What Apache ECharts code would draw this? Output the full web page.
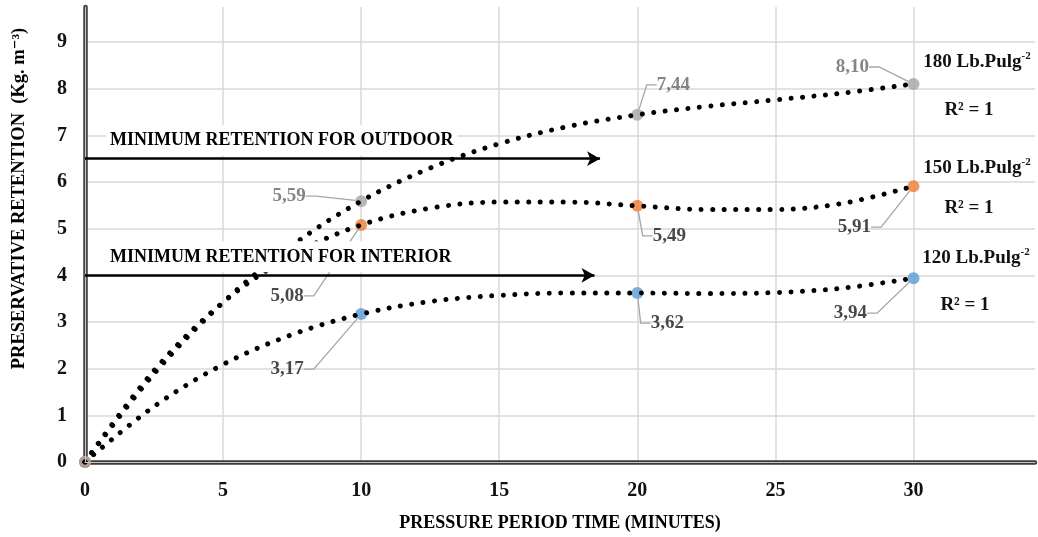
<!DOCTYPE html>
<html><head><meta charset="utf-8">
<script src="https://cdn.jsdelivr.net/npm/echarts@6/dist/echarts.min.js"></script>
<style>html,body{margin:0;padding:0;background:#fff}#c{width:1038px;height:537px}</style>
</head><body><div id="c"></div>
<script>
// ---- data ----
const times = [0, 10, 20, 30];
const ret120 = [0, 3.17, 3.62, 3.94];
const ret150 = [0, 5.08, 5.49, 5.91];
const ret180 = [0, 5.59, 7.44, 8.10];
// dotted trend curves
const trendX   = [0, 2.5, 5, 7.5, 10, 12.5, 15, 17.5, 20, 22.5, 25, 27.5, 30];
const trend120 = [0, 1.19, 2.09, 2.73, 3.17, 3.44, 3.57, 3.62, 3.62, 3.61, 3.63, 3.73, 3.94];
const trend150 = [0, 1.96, 3.42, 4.43, 5.08, 5.44, 5.57, 5.57, 5.49, 5.41, 5.41, 5.55, 5.91];
const trend180 = [0, 1.89, 3.42, 4.64, 5.59, 6.30, 6.82, 7.19, 7.44, 7.62, 7.76, 7.91, 8.10];
const seriesNames = ['120 Lb.Pulg', '150 Lb.Pulg', '180 Lb.Pulg'];
const seriesNameSup = '-2';
const rSquaredText = ['R² = 1', 'R² = 1', 'R² = 1'];
const thresholdNames = ['MINIMUM RETENTION FOR OUTDOOR', 'MINIMUM RETENTION FOR INTERIOR'];
const thresholdValues = [6.5, 4.0];
const thresholdArrowEnd = [18.65, 18.45];
const xTickLabels = ['0', '5', '10', '15', '20', '25', '30'];
const yTickLabels = ['0', '1', '2', '3', '4', '5', '6', '7', '8', '9'];
const xTitle = 'PRESSURE PERIOD TIME (MINUTES)';
const yTitle = 'PRESERVATIVE RETENTION  (Kg. m⁻³)';

// ---- styling / layout ----
const FONT = '"Liberation Serif", "DejaVu Serif", serif';
const markerColors = ['#5b9bd5', '#ed7d31', '#a5a5a5'];
const labelColors = ['#1a1a1a', '#1a1a1a', '#666666'];
const labelOffsets = [
  [[0, 0], [-74, 55], [30, 30], [-63, 35]],
  [[0, 0], [-74, 71], [32, 30], [-59, 41]],
  [[0, 0], [-72, -5], [36, -30], [-61, -17]]
];
const retSets = [ret120, ret150, ret180];
const trendSets = [trend120, trend150, trend180];

const chart = echarts.init(document.getElementById('c'), null, {renderer: 'canvas'});
const fmtTick = (labels) => (v) => {
  const s = String(v);
  return labels.indexOf(s) >= 0 ? s : '';
};

const series = [];
// trend curves (dotted)
trendSets.forEach((tr, k) => {
  series.push({
    type: 'line', name: seriesNames[k] + ' trend', z: 4,
    data: trendX.map((x, i) => [x, tr[i]]),
    smooth: 0.35, showSymbol: false, symbol: 'none', silent: true,
    lineStyle: {color: '#000', width: 5, type: [0.01, 11.5], cap: 'round'}
  });
});
// markers
retSets.forEach((vals, k) => {
  series.push({
    type: 'scatter', name: seriesNames[k], z: 3,
    symbol: 'circle', symbolSize: 12,
    itemStyle: {color: markerColors[k]},
    data: times.map((t, i) => ({
      value: [t, vals[i]],
      label: {show: i > 0}
    })),
    label: {
      show: true, position: 'inside',
      formatter: (p) => p.value[1].toFixed(2).replace('.', ','),
      fontFamily: FONT, fontWeight: 'bold', fontSize: 19, color: labelColors[k]
    },
    labelLayout: (p) => ({dx: labelOffsets[k][p.dataIndex][0], dy: labelOffsets[k][p.dataIndex][1]}),
    labelLine: {show: true, length2: 10, lineStyle: {color: '#a6a6a6', width: 1.3}}
  });
});
// threshold arrows
series.push({
  type: 'line', name: 'thresholds', data: [], z: 8,
  markLine: {
    silent: true, z: 8,
    symbol: ['none', 'arrow'], symbolSize: [11, 13],
    lineStyle: {color: '#000', width: 2.5, type: 'solid'},
    data: thresholdValues.map((v, i) => [
      {coord: [0, v], name: thresholdNames[i]},
      {coord: [thresholdArrowEnd[i], v]}
    ]),
    label: {
      show: true, position: 'insideStartTop', formatter: '{b}',
      fontFamily: FONT, fontWeight: 'bold', fontSize: 18, color: '#000',
      backgroundColor: '#fff', padding: [7, 4, 6, 4], distance: [21, 3]
    }
  }
});

const axisCommonX = {type: 'value', min: 0, max: 34.4, interval: 5};
const axisCommonY = {type: 'value', min: 0, max: 9.75, interval: 1};

chart.setOption({
  animation: false,
  backgroundColor: '#fff',
  grid: {left: 85, right: 3, top: 7, bottom: 74, containLabel: false},
  xAxis: [
    Object.assign({}, axisCommonX, {
      position: 'bottom',
      name: xTitle, nameLocation: 'middle', nameGap: 52,
      nameTextStyle: {fontFamily: FONT, fontWeight: 'bold', fontSize: 18, color: '#000'},
      axisLine: {show: true, onZero: false, lineStyle: {color: '#3c3c3c', width: 4.5}},
      axisTick: {show: false},
      axisLabel: {formatter: fmtTick(xTickLabels), fontFamily: FONT, fontWeight: 'bold', fontSize: 20, color: '#111', margin: 19},
      splitLine: {show: true, showMaxLine: false, showMinLine: false, lineStyle: {color: '#d9d9d9', width: 1.5}}
    }),
    Object.assign({}, axisCommonX, {
      position: 'bottom', offset: 0, z: 5,
      axisLine: {show: true, onZero: false, lineStyle: {color: '#c4c4c4', width: 1.2}},
      axisTick: {show: false}, axisLabel: {show: false}, splitLine: {show: false}
    })
  ],
  yAxis: [
    Object.assign({}, axisCommonY, {
      position: 'left',
      name: yTitle, nameLocation: 'middle', nameGap: 56, nameRotate: 90,
      nameTextStyle: {fontFamily: FONT, fontWeight: 'bold', fontSize: 18.5, color: '#000', padding: [0, 0, 0, 72]},
      axisLine: {show: true, onZero: false, lineStyle: {color: '#3c3c3c', width: 4.5}},
      axisTick: {show: false},
      axisLabel: {formatter: fmtTick(yTickLabels), fontFamily: FONT, fontWeight: 'bold', fontSize: 20, color: '#111', margin: 18},
      splitLine: {show: true, showMaxLine: false, showMinLine: false, lineStyle: {color: '#d9d9d9', width: 1.5}}
    }),
    Object.assign({}, axisCommonY, {
      position: 'left', offset: 0, z: 5,
      axisLine: {show: true, onZero: false, lineStyle: {color: '#c4c4c4', width: 1.2}},
      axisTick: {show: false}, axisLabel: {show: false}, splitLine: {show: false}
    })
  ],
  series: series
});

// trend-line names and R² texts at the right of the plot
const textAnchors = [
  {name: [976, 258], r2: [965, 305]},
  {name: [977, 168], r2: [969, 208]},
  {name: [977, 62], r2: [969, 110]}
];
const graphics = [];
textAnchors.forEach((a, k) => {
  graphics.push({type: 'text', z: 20, style: {
    text: '{a|' + seriesNames[k] + '}{s|' + seriesNameSup + '}',
    x: a.name[0], y: a.name[1], align: 'center', verticalAlign: 'middle',
    rich: {
      a: {fontFamily: FONT, fontWeight: 'bold', fontSize: 19, fill: '#111', lineHeight: 22},
      s: {fontFamily: FONT, fontWeight: 'bold', fontSize: 11, fill: '#111', lineHeight: 22, verticalAlign: 'top', padding: [0, 0, 8, 0]}
    }}});
  graphics.push({type: 'text', z: 20, style: {text: rSquaredText[k], x: a.r2[0], y: a.r2[1], align: 'center', verticalAlign: 'middle',
    font: 'bold 19px ' + FONT, fill: '#111'}});
});
chart.setOption({graphic: graphics});
</script></body></html>
